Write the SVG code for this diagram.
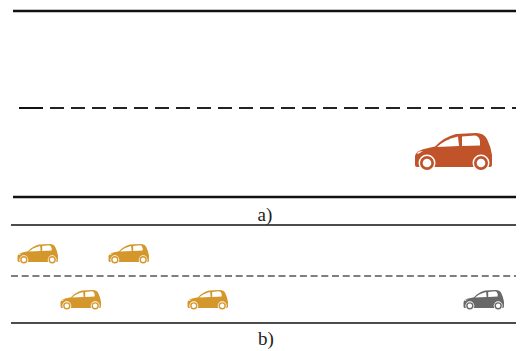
<svg xmlns="http://www.w3.org/2000/svg" xmlns:xlink="http://www.w3.org/1999/xlink" width="523" height="351" viewBox="0 0 523 351">
  <style>
    .edge { stroke: #111; fill: none; }
    .thick { stroke-width: 2.6; }
    .thin { stroke-width: 1.6; }
    .lane-a { stroke: #222; stroke-width: 2; stroke-dasharray: 14 7; fill: none; }
    .lane-b { stroke: #555; stroke-width: 1.4; stroke-dasharray: 7 3.7; fill: none; }
    .label { font-family: "Liberation Serif", serif; font-size: 19px; fill: #222; text-anchor: middle; }
  </style>
  <defs>
    <!-- hatchback silhouette, front facing left -->
    <symbol id="car" viewBox="0 0 80 40">
      <path fill="currentColor" d="M1,34 L1,25 Q2,20 10,18 L21,15.5 Q30,6 42,3 L62,2 Q70,2 73,8 Q77,16 78,24 L78,34 Q78,36 76,36 L3,36 Q1,36 1,34 Z"/>
      <path fill="#fff" d="M23,16 Q31,8.5 44,5.5 L45,15 Z"/>
      <path fill="#fff" d="M48,5.5 L61,4.5 Q65,5 66,10 L66,14.5 L48,15 Z"/>
      <path fill="#fff" d="M3,22 Q5,20 9,20 L4,23 Z"/>
      <circle cx="13" cy="32" r="8.5" fill="#fff"/>
      <circle cx="13" cy="32" r="7" fill="currentColor"/>
      <circle cx="13" cy="32" r="4.3" fill="#fff"/>
      <circle cx="67" cy="32" r="8.5" fill="#fff"/>
      <circle cx="67" cy="32" r="7" fill="currentColor"/>
      <circle cx="67" cy="32" r="4.3" fill="#fff"/>
    </symbol>
  </defs>

  <!-- panel a: road edges and lane marking -->
  <g id="panel-a-road">
    <line class="edge thick" x1="13" y1="11" x2="516" y2="11"/>
    <line class="edge" stroke-width="2" x1="19" y1="108" x2="43" y2="108"/>
    <line class="lane-a" x1="50" y1="108" x2="516" y2="108"/>
    <line class="edge thick" x1="13" y1="197" x2="516" y2="197"/>
  </g>
  <g id="car-a" color="#c0532a">
    <use xlink:href="#car" x="414" y="131" width="80" height="40"/>
  </g>
  <text class="label" x="265" y="221">a)</text>

  <!-- panel b: road edges and lane marking -->
  <g id="panel-b-road">
    <line class="edge thin" x1="11" y1="225" x2="516" y2="225"/>
    <line class="lane-b" x1="11" y1="276" x2="516" y2="276"/>
    <line class="edge thin" x1="11" y1="323" x2="516" y2="323"/>
  </g>
  <g id="car-b1" color="#d4972c">
    <use xlink:href="#car" x="17" y="243" width="42" height="21"/>
  </g>
  <g id="car-b2" color="#d4972c">
    <use xlink:href="#car" x="108" y="243" width="42" height="21"/>
  </g>
  <g id="car-b3" color="#d4972c">
    <use xlink:href="#car" x="60" y="289" width="42" height="21"/>
  </g>
  <g id="car-b4" color="#d4972c">
    <use xlink:href="#car" x="187" y="289" width="42" height="21"/>
  </g>
  <g id="car-b5" color="#686868">
    <use xlink:href="#car" x="463" y="289" width="42" height="21"/>
  </g>
  <text class="label" x="266" y="345">b)</text>
</svg>
